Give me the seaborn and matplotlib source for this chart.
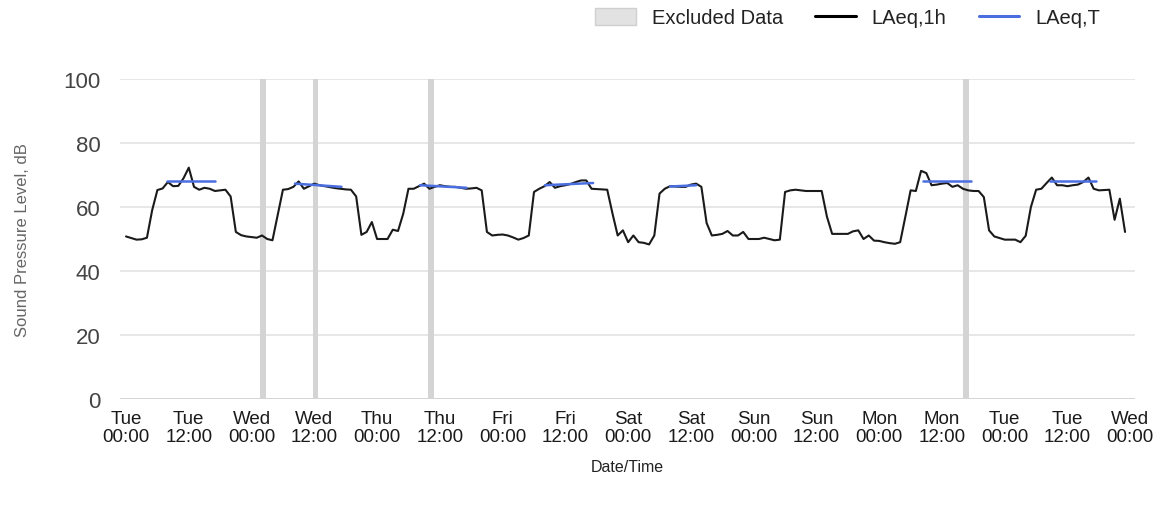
import numpy as np
import pandas as pd
import matplotlib
matplotlib.use("Agg")
import matplotlib.pyplot as plt
import seaborn as sns
from matplotlib.patches import Patch
from matplotlib.lines import Line2D

# ---------------- data ----------------
# Hourly LAeq,1h values (dB), hour 0 = Tue 00:00
laeq_tue1 = [50.8, 50.3, 49.8, 49.9, 50.4, 59.0, 65.3, 65.8, 67.8, 66.5, 66.6, 69.0,
             72.3, 66.3, 65.4, 66.0, 65.7, 65.0, 65.2, 65.4, 63.3, 52.2, 51.2, 50.8]
laeq_wed = [50.6, 50.4, 51.1, 50.0, 49.6, 57.5, 65.4, 65.6, 66.3, 68.0, 65.7, 66.5,
            67.3, 66.8, 66.5, 66.2, 65.9, 65.7, 65.5, 65.4, 63.3, 51.3, 52.2, 55.3]
laeq_thu = [50.0, 50.0, 50.0, 52.9, 52.5, 57.9, 65.7, 65.7, 66.5, 67.3, 65.7, 66.3,
            66.8, 66.5, 66.3, 66.3, 66.0, 65.7, 65.8, 66.0, 65.2, 52.2, 51.1, 51.3]
laeq_fri = [51.4, 51.1, 50.5, 49.8, 50.3, 51.1, 64.7, 65.7, 66.5, 67.8, 66.0, 66.5,
            66.8, 67.2, 67.8, 68.3, 68.3, 65.7, 65.6, 65.5, 65.4, 58.0, 51.1, 52.7]
laeq_sat = [49.0, 51.1, 49.0, 48.8, 48.3, 51.1, 64.2, 65.7, 66.5, 66.4, 66.3, 66.3,
            67.0, 67.3, 66.3, 55.0, 51.1, 51.3, 51.6, 52.5, 51.1, 51.1, 52.2, 50.0]
laeq_sun = [50.0, 50.0, 50.4, 50.0, 49.6, 49.8, 64.7, 65.2, 65.4, 65.2, 65.0, 65.0,
            65.0, 65.0, 57.0, 51.6, 51.6, 51.6, 51.6, 52.4, 52.7, 50.0, 51.1, 49.5]
laeq_mon = [49.4, 49.0, 48.7, 48.5, 49.0, 57.0, 65.2, 65.0, 71.3, 70.6, 66.8, 67.0,
            67.3, 67.5, 66.3, 66.8, 65.7, 65.2, 65.0, 65.0, 63.1, 52.7, 50.8, 50.3]
laeq_tue2 = [49.8, 49.8, 49.8, 49.0, 51.0, 60.0, 65.4, 65.7, 67.5, 69.2, 66.8, 66.8,
             66.5, 66.8, 67.0, 67.8, 69.2, 65.7, 65.2, 65.3, 65.4, 56.0, 62.6, 52.2]

# LAeq,T daytime segments: start hour, end hour, start value, end value
laeqT_start = [7.8, 32.3, 56.2, 80.1, 104.0, 152.4, 176.6]
laeqT_end = [17.0, 41.2, 65.1, 89.3, 109.0, 161.6, 185.5]
laeqT_v0 = [68.0, 67.3, 66.8, 66.8, 66.4, 68.1, 68.0]
laeqT_v1 = [68.0, 66.3, 66.0, 67.5, 66.8, 68.1, 68.0]

# Excluded data (centre hour of 1-hour gaps)
excluded_hours = [26.2, 36.2, 58.3, 160.6]

tick_days = ["Tue", "Tue", "Wed", "Wed", "Thu", "Thu", "Fri", "Fri", "Sat",
             "Sat", "Sun", "Sun", "Mon", "Mon", "Tue", "Tue", "Wed"]
tick_times = ["00:00", "12:00"] * 8 + ["00:00"]
y_ticks = [0, 20, 40, 60, 80, 100]

# ---------------- build frames ----------------
laeq = (laeq_tue1 + laeq_wed + laeq_thu + laeq_fri + laeq_sat +
        laeq_sun + laeq_mon + laeq_tue2)
df = pd.DataFrame({"hour": np.arange(len(laeq)), "LAeq1h": laeq})

rows = []
for i, (s, e, a, b) in enumerate(zip(laeqT_start, laeqT_end, laeqT_v0, laeqT_v1)):
    rows.append({"seg": i, "hour": s, "val": a})
    rows.append({"seg": i, "hour": e, "val": b})
dfT = pd.DataFrame(rows)

# ---------------- plot ----------------
sns.set_theme(style="white")
plt.rcParams["font.family"] = ["Liberation Sans", "DejaVu Sans"]

fig = plt.figure(figsize=(11.65, 5.06), dpi=100)
ax = fig.add_axes([120 / 1165, 1 - 400 / 506, (1135 - 120) / 1165, 320 / 506])

for yv in y_ticks:
    ax.axhline(yv, color="#cccccc" if yv == 0 else "#e3e3e3", lw=1.2, zorder=0)

for h in excluded_hours:
    ax.axvspan(h - 0.5, h + 0.5, color="#d4d4d4", lw=0, zorder=1)

sns.lineplot(data=df, x="hour", y="LAeq1h", ax=ax, color="#1a1a1a", lw=1.5,
             zorder=3, legend=False)
sns.lineplot(data=dfT, x="hour", y="val", units="seg", estimator=None, ax=ax,
             color="#4a6ee0", lw=1.8, zorder=4, legend=False)

ax.set_xlim(-1.15, 192.9)
ax.set_ylim(0, 100)
ax.set_xticks(np.arange(0, 193, 12))
ax.set_xticklabels([f"{d}\n{t}" for d, t in zip(tick_days, tick_times)],
                   fontsize=13.5, color="#1a1a1a", linespacing=1.05)
ax.set_yticks(y_ticks)
ax.set_yticklabels([str(v) for v in y_ticks], fontsize=16, color="#444444")
ax.tick_params(axis="x", length=0, pad=8)
ax.tick_params(axis="y", length=0, pad=14)
for sp in ax.spines.values():
    sp.set_visible(False)
ax.grid(False)

ax.set_xlabel("Date/Time", fontsize=11.5, color="#222222", labelpad=10)
ax.set_ylabel("Sound Pressure Level, dB", fontsize=12, color="#666666", labelpad=12)
ax.yaxis.set_label_coords(-90 / 1015, 0.5)

handles = [
    Patch(facecolor="#e2e2e2", edgecolor="#cfcfcf", lw=1),
    Line2D([0], [0], color="#000000", lw=2.2),
    Line2D([0], [0], color="#4a6ee0", lw=2.2),
]
fig.legend(handles, ["Excluded Data", "LAeq,1h", "LAeq,T"], ncol=3,
           loc="upper right", bbox_to_anchor=(1118 / 1165, 1.018), frameon=False,
           fontsize=14.5, handlelength=2.0, handleheight=0.9, columnspacing=1.6,
           handletextpad=0.8, labelcolor="#222222")

fig.savefig("out.png", dpi=100)
